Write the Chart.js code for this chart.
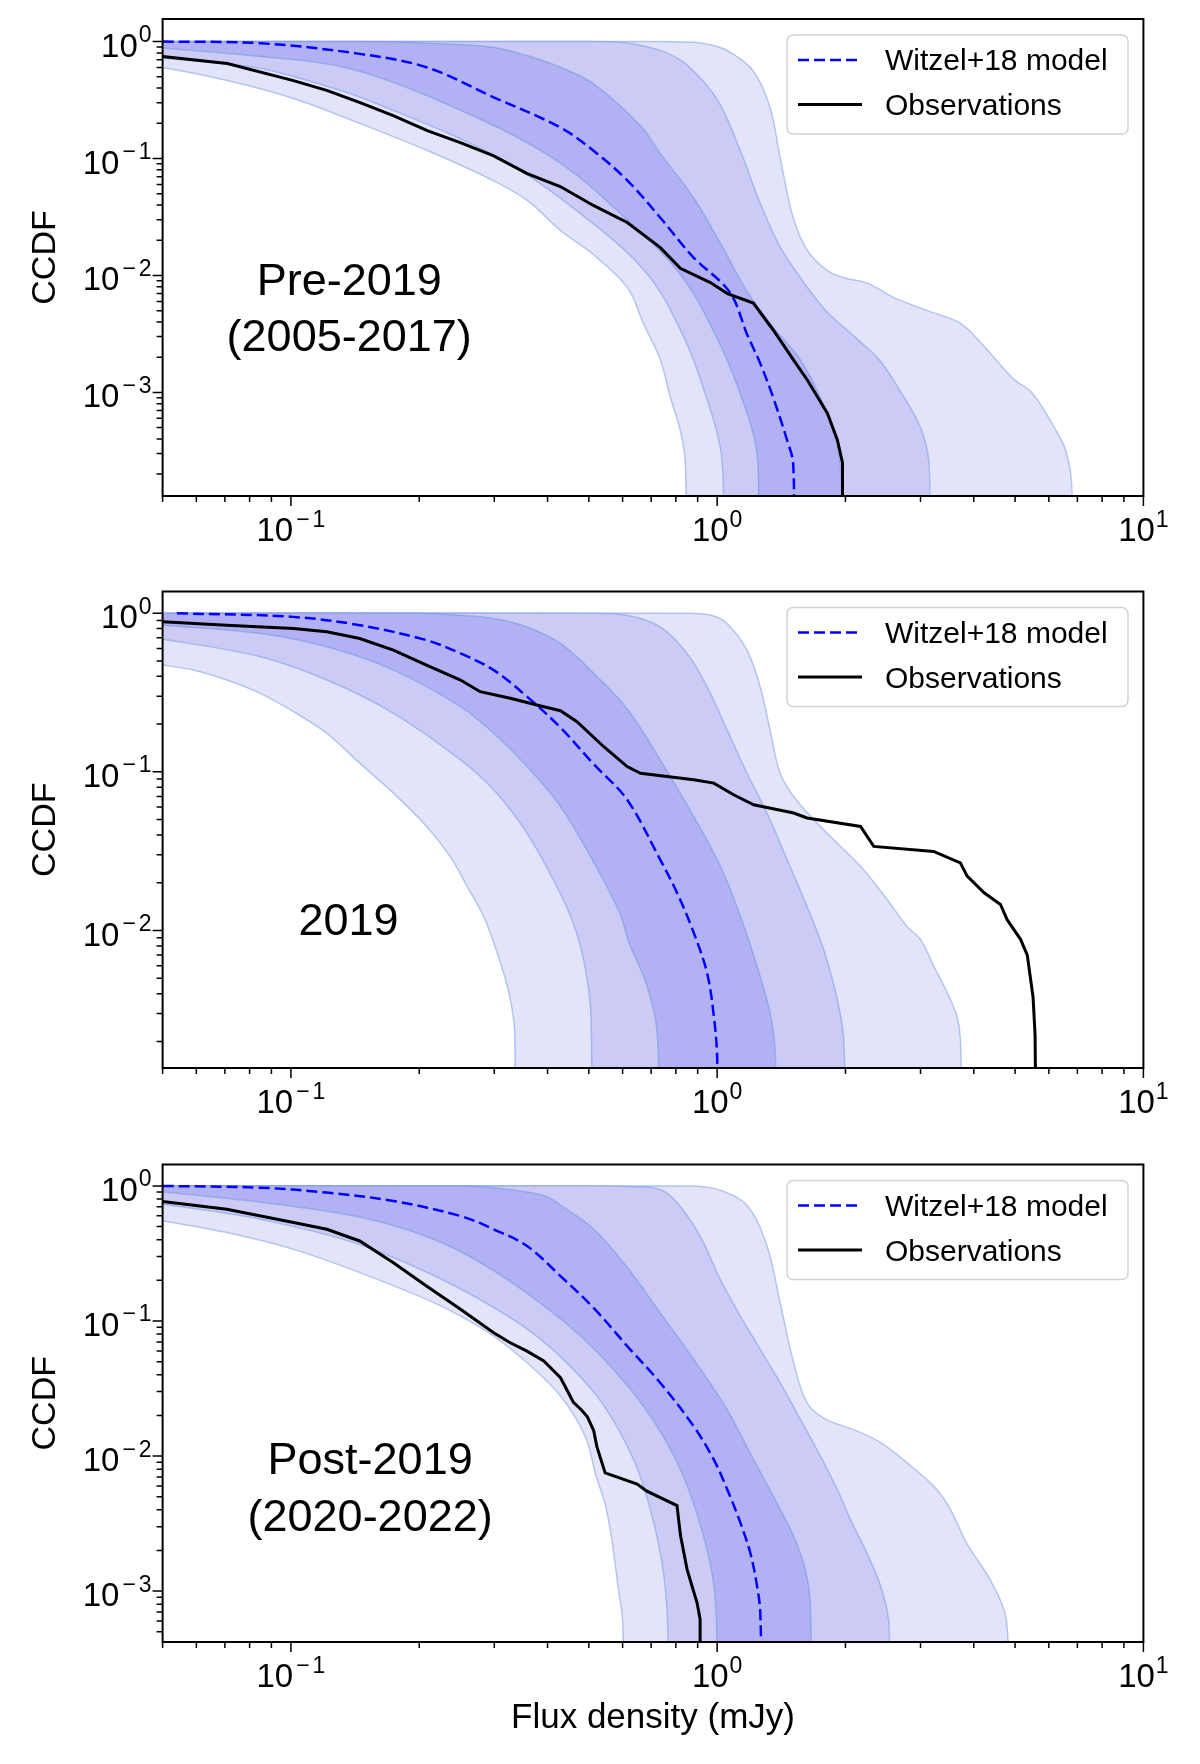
<!DOCTYPE html>
<html>
<head>
<meta charset="utf-8">
<script src="https://cdn.jsdelivr.net/npm/chart.js@4.4.1/dist/chart.umd.min.js"></script>
<style>
	html, body { margin: 0; padding: 0; background: #fff; }
	#page { position: relative; width: 1200px; height: 1764px; overflow: hidden; }
	canvas { position: absolute; left: 0; }
</style>
</head>
<body>
<div id="page">
	<canvas id="pre" width="1200" height="560" style="top:0px"></canvas>
	<canvas id="mid" width="1200" height="570" style="top:560px"></canvas>
	<canvas id="post" width="1200" height="634" style="top:1130px"></canvas>
</div>
<script>
// ---- data, [flux mJy, CCDF] pairs ----

// Pre-2019 (2005-2017)
const preModel = [[0.05,1.0],[0.085,0.967],[0.145,0.785],[0.208,0.603],[0.299,0.334],[0.429,0.184],[0.512,0.117],[0.616,0.0648],[0.735,0.0313],[0.879,0.0143],[1.07,0.0072],[1.177,0.0031],[1.262,0.00177],[1.354,0.0009],[1.459,0.00039],[1.507,0.00025],[1.513,0.00005]];
const preObs = [[0.05,0.744],[0.0709,0.649],[0.1014,0.464],[0.1218,0.381],[0.1453,0.301],[0.1738,0.233],[0.2089,0.1735],[0.2497,0.137],[0.2982,0.106],[0.3584,0.0744],[0.4285,0.0576],[0.5123,0.0397],[0.6153,0.0284],[0.7357,0.0173],[0.8196,0.0115],[0.9639,0.0087],[1.057,0.0070],[1.216,0.0058],[1.355,0.0034],[1.51,0.0019],[1.629,0.00127],[1.815,0.00066],[1.915,0.00039],[1.968,0.00025],[1.968,0.00005]];
const preLo3 = [[0.045,0.62],[0.05,0.6],[0.0709,0.464],[0.1014,0.326],[0.1453,0.199],[0.2089,0.117],[0.2982,0.0648],[0.3584,0.0438],[0.4285,0.0243],[0.5123,0.0151],[0.6153,0.0079],[0.671,0.0039],[0.7357,0.0019],[0.777,0.0009],[0.8196,0.00047],[0.842,0.00025],[0.844,0.00005]];
const preLo2 = [[0.045,0.74],[0.05,0.72],[0.0824,0.6],[0.115,0.44],[0.157,0.3],[0.309,0.1],[0.498,0.03],[0.69,0.01],[0.834,0.003],[0.935,0.001],[1.022,0.0003],[1.037,0.00005]];
const preLo1 = [[0.045,0.89],[0.05,0.88],[0.08,0.76],[0.134,0.6],[0.228,0.3],[0.413,0.1],[0.614,0.03],[0.824,0.01],[0.995,0.003],[1.13,0.001],[1.24,0.0003],[1.246,0.00005]];
const preHi1 = [[0.045,1.0],[0.145,1.0],[0.209,0.967],[0.298,0.894],[0.358,0.759],[0.4285,0.603],[0.512,0.438],[0.661,0.191],[0.736,0.11],[0.88,0.0464],[1.018,0.0188],[1.178,0.0072],[1.355,0.0036],[1.568,0.0019],[1.747,0.0009],[1.915,0.00036],[2.0,0.00005]];
const preHi2 = [[0.045,1.0],[0.5,1.0],[0.6,0.98],[0.66,0.93],[0.75,0.82],[0.85,0.63],[1.0,0.32],[1.13,0.12],[1.26,0.042],[1.4,0.018],[1.57,0.0095],[1.8,0.005],[2.1,0.003],[2.4,0.0019],[2.7,0.001],[3.0,0.0005],[3.14,0.00025],[3.14,0.00005]];
const preHi3 = [[0.045,1.0],[0.7,1.0],[0.851,0.99],[0.95,0.95],[1.057,0.838],[1.214,0.565],[1.331,0.273],[1.405,0.102],[1.508,0.0313],[1.628,0.0164],[1.814,0.011],[1.977,0.0096],[2.252,0.0086],[2.592,0.0065],[3.113,0.005],[3.724,0.0039],[4.217,0.0025],[4.959,0.0013],[5.495,0.00098],[6.223,0.00048],[6.57,0.00032],[6.785,0.00017],[6.785,0.00005]];

// 2019
const midModel = [[0.054,1.0],[0.101,0.948],[0.145,0.84],[0.208,0.676],[0.25,0.558],[0.299,0.438],[0.358,0.298],[0.429,0.19],[0.513,0.112],[0.615,0.0667],[0.735,0.028],[0.805,0.0173],[0.881,0.0097],[0.947,0.0054],[0.982,0.0029],[1.0,0.0016],[1.0,0.0005]];
const midObs = [[0.05,0.882],[0.0707,0.84],[0.1014,0.801],[0.1214,0.763],[0.145,0.693],[0.174,0.585],[0.208,0.471],[0.25,0.379],[0.278,0.32],[0.327,0.291],[0.392,0.2575],[0.429,0.243],[0.469,0.207],[0.542,0.144],[0.615,0.108],[0.661,0.098],[0.881,0.0891],[0.982,0.0849],[1.093,0.0717],[1.218,0.062],[1.512,0.055],[1.625,0.0512],[2.17,0.0453],[2.33,0.0339],[3.22,0.0315],[3.72,0.0267],[3.86,0.022],[4.23,0.0173],[4.62,0.0146],[4.79,0.0117],[5.15,0.0088],[5.34,0.007],[5.51,0.0038],[5.57,0.0022],[5.6,0.0005]];
const midLo3 = [[0.045,0.49],[0.05,0.471],[0.059,0.438],[0.0707,0.379],[0.0847,0.3126],[0.1014,0.2395],[0.1214,0.175],[0.145,0.1135],[0.174,0.0734],[0.208,0.0453],[0.2363,0.0293],[0.259,0.019],[0.283,0.0123],[0.299,0.0084],[0.3155,0.0054],[0.327,0.0037],[0.335,0.0023],[0.335,0.0005]];
const midLo2 = [[0.045,0.7],[0.05,0.684],[0.0847,0.531],[0.1214,0.379],[0.174,0.234],[0.25,0.119],[0.299,0.077],[0.358,0.041],[0.429,0.017],[0.469,0.0095],[0.495,0.005],[0.506,0.0028],[0.508,0.0005]];
const midLo1 = [[0.045,0.85],[0.05,0.84],[0.0847,0.745],[0.1214,0.614],[0.174,0.438],[0.25,0.2575],[0.299,0.175],[0.358,0.108],[0.429,0.0605],[0.513,0.027],[0.59,0.013],[0.62,0.0085],[0.684,0.0045],[0.723,0.0023],[0.729,0.0005]];
const midHi1 = [[0.045,1.0],[0.2,1.0],[0.25,0.97],[0.299,0.926],[0.358,0.82],[0.429,0.645],[0.513,0.42],[0.615,0.25],[0.735,0.119],[0.881,0.0524],[1.018,0.0254],[1.134,0.0123],[1.24,0.006],[1.336,0.0029],[1.37,0.0016],[1.37,0.0005]];
const midHi2 = [[0.045,1.0],[0.5,1.0],[0.615,0.971],[0.735,0.82],[0.85,0.558],[0.947,0.344],[1.055,0.184],[1.175,0.098],[1.309,0.055],[1.459,0.028],[1.625,0.0142],[1.778,0.0076],[1.912,0.0037],[1.98,0.0021],[2.0,0.0005]];
const midHi3 = [[0.045,1.0],[0.85,1.0],[0.97,0.97],[1.055,0.861],[1.175,0.585],[1.262,0.344],[1.336,0.175],[1.405,0.098],[1.512,0.07],[1.685,0.05],[1.877,0.0373],[2.17,0.0254],[2.505,0.0157],[2.79,0.0106],[3.0,0.0088],[3.22,0.006],[3.46,0.0041],[3.65,0.0029],[3.72,0.0021],[3.76,0.0005]];

// Post-2019 (2020-2022)
const postModel = [[0.05,1.0],[0.0847,0.97],[0.1214,0.892],[0.174,0.773],[0.25,0.598],[0.299,0.477],[0.358,0.359],[0.429,0.215],[0.513,0.125],[0.615,0.0652],[0.735,0.0349],[0.881,0.0166],[0.982,0.0094],[1.055,0.0057],[1.134,0.0032],[1.197,0.0019],[1.24,0.0011],[1.262,0.0007],[1.27,0.0002]];
const postObs = [[0.05,0.765],[0.0707,0.671],[0.1014,0.535],[0.1214,0.477],[0.145,0.391],[0.174,0.27],[0.208,0.1815],[0.25,0.122],[0.299,0.0819],[0.327,0.069],[0.358,0.0598],[0.392,0.0505],[0.429,0.038],[0.46,0.025],[0.48,0.022],[0.496,0.0195],[0.513,0.0155],[0.522,0.0118],[0.546,0.0075],[0.649,0.0062],[0.684,0.0055],[0.805,0.0043],[0.82,0.0026],[0.85,0.00145],[0.897,0.00082],[0.912,0.00062],[0.912,0.0002]];
const postLo3 = [[0.045,0.57],[0.05,0.55],[0.0707,0.451],[0.1014,0.339],[0.145,0.228],[0.208,0.1445],[0.25,0.1087],[0.299,0.0773],[0.358,0.049],[0.429,0.0278],[0.49,0.014],[0.52,0.0071],[0.545,0.0045],[0.565,0.0025],[0.585,0.0011],[0.6,0.0006],[0.602,0.0002]];
const postLo2 = [[0.045,0.75],[0.05,0.73],[0.0885,0.55],[0.165,0.316],[0.336,0.1],[0.505,0.0316],[0.631,0.01],[0.71,0.0032],[0.757,0.001],[0.772,0.0002]];
const postLo1 = [[0.045,0.91],[0.05,0.9],[0.09,0.74],[0.159,0.55],[0.255,0.316],[0.435,0.1],[0.624,0.0316],[0.792,0.01],[0.91,0.0032],[0.986,0.001],[1.0,0.0002]];
const postHi1 = [[0.045,1.0],[0.25,1.0],[0.299,0.97],[0.392,0.85],[0.429,0.72],[0.513,0.48],[0.615,0.25],[0.735,0.115],[0.881,0.052],[1.055,0.0221],[1.218,0.0094],[1.381,0.0045],[1.512,0.00255],[1.61,0.00145],[1.654,0.00082],[1.663,0.0002]];
const postHi2 = [[0.045,1.0],[0.55,1.0],[0.615,0.99],[0.735,0.94],[0.805,0.752],[0.912,0.425],[1.017,0.203],[1.134,0.1087],[1.262,0.0616],[1.405,0.0349],[1.568,0.0187],[1.747,0.01],[1.912,0.0057],[2.054,0.0034],[2.248,0.0019],[2.416,0.0011],[2.527,0.0006],[2.53,0.0002]];
const postHi3 = [[0.045,1.0],[0.85,1.0],[0.92,0.99],[1.017,0.93],[1.175,0.72],[1.309,0.36],[1.405,0.137],[1.512,0.049],[1.625,0.0248],[1.8,0.0187],[2.09,0.0157],[2.416,0.0126],[2.79,0.0089],[3.22,0.006],[3.5,0.0042],[3.87,0.0022],[4.38,0.0012],[4.76,0.00064],[4.815,0.0002]];

// axis limits
const xRange = [0.05, 10];
const preYRange = [1.3e-4, 1.56];
const midYRange = [1.36e-3, 1.37];
const postYRange = [4.2e-4, 1.44];

const legendLabels = [`Witzel+18 model`, `Observations`];

// ---- styling ----
const FONT = `'Liberation Sans', Arial, sans-serif`;
const LIGHT = `#e3e4fa`;
const MIDTONE = `#cbcbf6`;
const DARK = `#b1b1f3`;
const EDGE = `rgba(105, 145, 222, 0.45)`;
const MODEL_DASH = [11, 5];
const SMOOTH = 0.35;

const toPoints = (arr) => arr.map(([x, y]) => ({ x, y }));
const isPow10 = (v) => Math.abs(Math.log10(v) - Math.round(Math.log10(v))) < 1e-6;
const onGrid = (v) => {
	const e = Math.floor(Math.log10(v) + 1e-9);
	const m = v / Math.pow(10, e);
	return Math.abs(m - Math.round(m)) < 1e-6;
};

// "10" with a raised exponent, minus spaced like mathtext
function drawPower(ctx, exp, x, baseline, align) {
	ctx.font = `33px ${FONT}`;
	const w1 = ctx.measureText(`10`).width;
	ctx.font = `23px ${FONT}`;
	const minusW = exp < 0 ? ctx.measureText(`\u2212`).width + 5 : 0;
	const digitsW = ctx.measureText(`${Math.abs(exp)}`).width;
	const total = w1 + 1 + minusW + digitsW;
	const start = align === `center` ? x - total / 2 : x - total;
	ctx.textAlign = `left`;
	ctx.textBaseline = `alphabetic`;
	ctx.font = `33px ${FONT}`;
	ctx.fillText(`10`, start, baseline);
	ctx.font = `23px ${FONT}`;
	let sx = start + w1 + 1;
	if (exp < 0) {
		ctx.fillText(`\u2212`, sx + 2, baseline - 14.5);
		sx += minusW;
	};
	ctx.fillText(`${Math.abs(exp)}`, sx, baseline - 14.5);
};

const decor = {
	id: `decor`,
	afterDraw(chart, args, opts) {
		const { ctx, chartArea: a } = chart;
		const xs = chart.scales.x;
		const ys = chart.scales.y;
		ctx.save();
		ctx.fillStyle = `#000`;
		ctx.strokeStyle = `#000`;

		// tick marks, outward
		ctx.lineWidth = 1.5;
		ctx.beginPath();
		for (const t of xs.ticks) {
			if (t.value < xs.min || t.value > xs.max || !onGrid(t.value)) continue;
			const px = xs.getPixelForValue(t.value);
			const len = isPow10(t.value) ? 10 : 6;
			ctx.moveTo(px, a.bottom);
			ctx.lineTo(px, a.bottom + len);
		};
		for (const t of ys.ticks) {
			if (t.value < ys.min || t.value > ys.max || !onGrid(t.value)) continue;
			const py = ys.getPixelForValue(t.value);
			const len = isPow10(t.value) ? 10 : 6;
			ctx.moveTo(a.left, py);
			ctx.lineTo(a.left - len, py);
		};
		ctx.stroke();

		// frame
		ctx.lineWidth = 2;
		ctx.strokeRect(a.left, a.top, a.right - a.left, a.bottom - a.top);

		// tick labels at the decades
		for (const t of xs.ticks) {
			if (t.value < xs.min || t.value > xs.max || !isPow10(t.value)) continue;
			drawPower(ctx, Math.round(Math.log10(t.value)), xs.getPixelForValue(t.value), a.bottom + 45, `center`);
		};
		for (const t of ys.ticks) {
			if (t.value < ys.min || t.value > ys.max || !isPow10(t.value)) continue;
			drawPower(ctx, Math.round(Math.log10(t.value)), a.left - 11, ys.getPixelForValue(t.value) + 15, `right`);
		};

		// period annotation
		ctx.font = `45px ${FONT}`;
		ctx.textAlign = `center`;
		ctx.textBaseline = `alphabetic`;
		for (const n of opts.notes || []) {
			ctx.fillText(n.text, xs.getPixelForValue(n.x), ys.getPixelForValue(n.y));
		};

		// legend box, upper right
		const L = a.right - 356.4;
		const R = a.right - 15.4;
		const T = a.top + 16;
		const B = a.top + 115;
		ctx.beginPath();
		ctx.roundRect(L, T, R - L, B - T, 6);
		ctx.fillStyle = `rgba(255,255,255,0.85)`;
		ctx.fill();
		ctx.strokeStyle = `#d2d2d2`;
		ctx.lineWidth = 1.5;
		ctx.stroke();

		ctx.lineWidth = 2.5;
		ctx.strokeStyle = `#0000ff`;
		ctx.setLineDash(MODEL_DASH);
		ctx.beginPath();
		ctx.moveTo(L + 11, a.top + 41);
		ctx.lineTo(L + 75, a.top + 41);
		ctx.stroke();
		ctx.setLineDash([]);
		ctx.lineWidth = 3;
		ctx.strokeStyle = `#000`;
		ctx.beginPath();
		ctx.moveTo(L + 11, a.top + 85.5);
		ctx.lineTo(L + 75, a.top + 85.5);
		ctx.stroke();

		ctx.fillStyle = `#000`;
		ctx.font = `30px ${FONT}`;
		ctx.textAlign = `left`;
		ctx.fillText(legendLabels[0], L + 98, a.top + 51);
		ctx.fillText(legendLabels[1], L + 98, a.top + 96);
		ctx.restore();
	},
};

function bandEdge(arr, color) {
	return {
		data: toPoints(arr),
		fill: `start`,
		backgroundColor: color,
		borderColor: EDGE,
		borderWidth: 1.5,
		pointRadius: 0,
		tension: SMOOTH,
	};
};

function makePanel(id, set, yRange, padTop, xHeight, notes, xTitle) {
	const datasets = [
		{ data: toPoints(set.obs), borderColor: `#000`, borderWidth: 3, pointRadius: 0, fill: false, tension: 0 },
		{ data: toPoints(set.model), borderColor: `#0000ff`, borderWidth: 2.5, borderDash: MODEL_DASH, pointRadius: 0, fill: false, tension: SMOOTH },
		bandEdge(set.lo3, `#ffffff`),
		bandEdge(set.lo2, LIGHT),
		bandEdge(set.lo1, MIDTONE),
		bandEdge(set.hi1, DARK),
		bandEdge(set.hi2, MIDTONE),
		bandEdge(set.hi3, LIGHT),
	];

	return new Chart(document.getElementById(id), {
		type: `line`,
		data: { datasets },
		plugins: [decor],
		options: {
			responsive: false,
			devicePixelRatio: 1,
			animation: false,
			events: [],
			layout: { padding: { top: padTop, right: 56.6, bottom: 0, left: 0 } },
			plugins: {
				legend: { display: false },
				tooltip: { enabled: false },
				decor: { notes },
			},
			scales: {
				x: {
					type: `logarithmic`,
					min: xRange[0],
					max: xRange[1],
					grid: { display: false },
					border: { display: false },
					ticks: { display: false },
					title: {
						display: !!xTitle,
						text: xTitle || ``,
						color: `#000`,
						font: { family: FONT, size: 35 },
						padding: { top: 0, bottom: 25 },
					},
					afterFit: (scale) => { scale.height = xHeight; },
				},
				y: {
					type: `logarithmic`,
					min: yRange[0],
					max: yRange[1],
					grid: { display: false },
					border: { display: false },
					ticks: { display: false },
					title: {
						display: true,
						text: `CCDF`,
						color: `#000`,
						font: { family: FONT, size: 34 },
						padding: { top: 25, bottom: 0 },
					},
					afterFit: (scale) => { scale.width = 162.6; },
				},
			},
		},
	});
};

makePanel(`pre`,
	{ obs: preObs, model: preModel, lo3: preLo3, lo2: preLo2, lo1: preLo1, hi1: preHi1, hi2: preHi2, hi3: preHi3 },
	preYRange, 19, 64,
	[{ x: 0.137, y: 0.00683, text: `Pre-2019` }, { x: 0.137, y: 0.00227, text: `(2005-2017)` }]);

makePanel(`mid`,
	{ obs: midObs, model: midModel, lo3: midLo3, lo2: midLo2, lo1: midLo1, hi1: midHi1, hi2: midHi2, hi3: midHi3 },
	midYRange, 31.5, 62,
	[{ x: 0.1365, y: 0.00935, text: `2019` }]);

makePanel(`post`,
	{ obs: postObs, model: postModel, lo3: postLo3, lo2: postLo2, lo1: postLo1, hi1: postHi1, hi2: postHi2, hi3: postHi3 },
	postYRange, 34.5, 122,
	[{ x: 0.1534, y: 0.00738, text: `Post-2019` }, { x: 0.1534, y: 0.0028, text: `(2020-2022)` }],
	`Flux density (mJy)`);
</script>
</body>
</html>
